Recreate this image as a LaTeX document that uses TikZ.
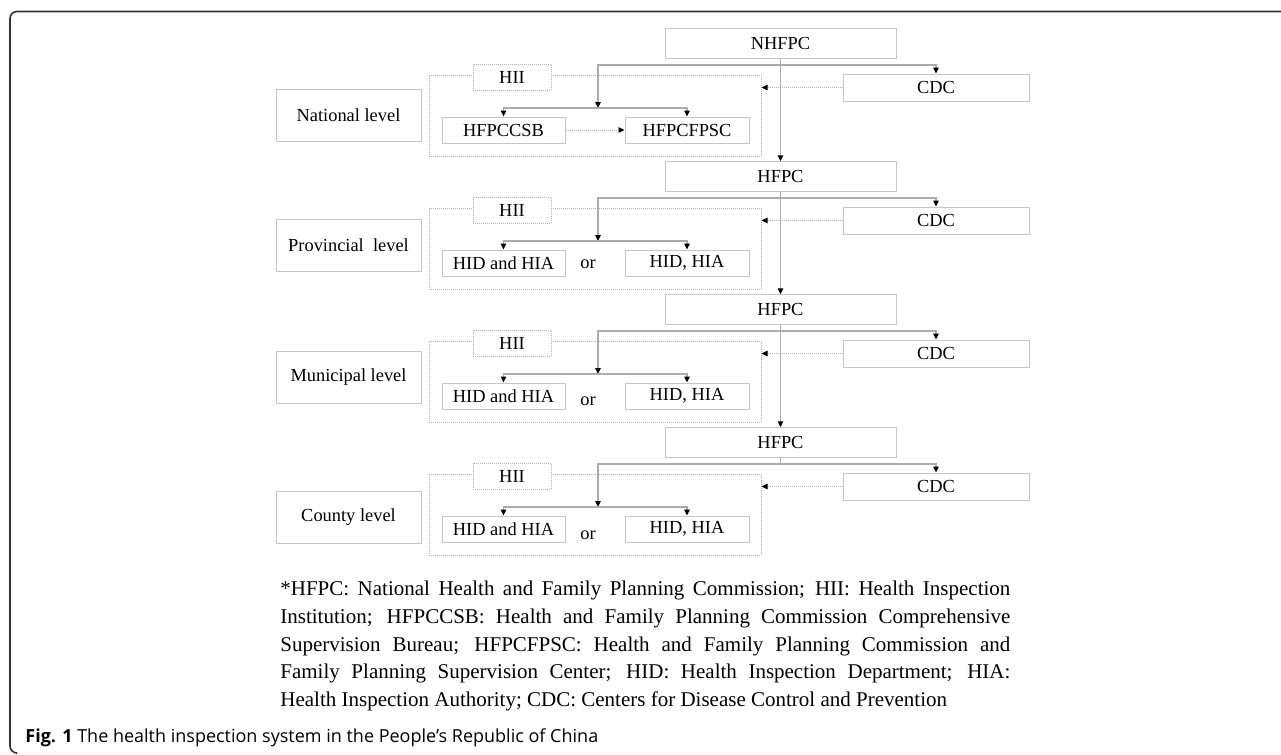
\documentclass[tikz,border=0pt]{standalone}
\usepackage{fontspec}
\setmainfont{Liberation Serif}
\newfontfamily\capfont{Open Sans}
\usetikzlibrary{arrows.meta,positioning}

\tikzset{
  box/.style={draw=gray!45, line width=0.5pt, inner sep=0pt, fill=white,
    font=\fontsize{9.2}{10}\selectfont},
  dotbox/.style={box, draw=gray!60, dash pattern=on 0.5pt off 0.5pt},
  link/.style={draw=gray!65, line width=0.6pt},
  dotlink/.style={draw=gray!60, line width=0.5pt, dash pattern=on 0.5pt off 0.5pt},
  tip/.style={-{Triangle[length=3pt,width=2.8pt,color=black]}},
}

\begin{document}
\begin{tikzpicture}[x=0.5pt, y=-0.5pt, line cap=butt]
\useasboundingbox (0,0) rectangle (1281,755);
\def\hidhia{HID, HIA}
% outer frame
\draw[line width=0.8pt, draw=black!80, rounded corners=3.5pt]
  (1285,11.5) -- (10,11.5) -- (10,753) -- (16,753);
% one row per level
\foreach \k/\lvl/\ly/\topname/\lft/\rgt/\ory in {
    0/National level/115/NHFPC/HFPCCSB/HFPCFPSC/0,
    1/Provincial\ \ level/245/HFPC/HID and HIA/\hidhia/264,
    2/Municipal level/377.5/HFPC/HID and HIA/\hidhia/401,
    3/County level/517/HFPC/HID and HIA/\hidhia/535} {
  \pgfmathsetmacro\dy{133*\k}
  \node[box, minimum width=145*0.5pt, minimum height=52*0.5pt]
    (lvl\k) at (348.5,\ly) {\lvl};
  \node[box, minimum width=231*0.5pt, minimum height=29.5*0.5pt]
    (top\k) at (780.5,43.5+\dy) {\topname};
  \node[box, minimum width=186*0.5pt, minimum height=27*0.5pt]
    (cdc\k) at (936,87.5+\dy) {CDC};
  \node[dotbox, fill=none, minimum width=332*0.5pt, minimum height=81*0.5pt]
    (hii\k) at (595,115.5+\dy) {};
  \node[dotbox, minimum width=78*0.5pt, minimum height=26*0.5pt]
    (hiilab\k) at (512,77+\dy) {HII};
  \node[box, minimum width=123*0.5pt, minimum height=26*0.5pt]
    (left\k) at (503.5,130+\dy) {\lft};
  \node[box, minimum width=124*0.5pt, minimum height=26*0.5pt]
    (right\k) at (687,130+\dy) {\rgt};
  \coordinate (fork\k) at (780.5,65+\dy);
  \coordinate (split\k) at (598,108+\dy);
  \draw[link] (top\k.south) -- (fork\k);
  \draw[link, tip] (fork\k) -| (cdc\k.north);
  \draw[link, tip] (fork\k) -| (split\k);
  \draw[link, tip] (split\k) -| (left\k.north);
  \draw[link, tip] (split\k) -| (right\k.north);
  \draw[dotlink, tip] (cdc\k.west) -- (hii\k.east |- cdc\k.west);
  \ifnum\k>0
    \node[font=\fontsize{9.2}{10}\selectfont] (or\k) at (588,\ory) {or};
  \fi
}
\foreach \k/\n in {0/1,1/2,2/3} {
  \draw[link, tip] (fork\k) -- (top\n.north);
}
\draw[dotlink, tip] (left0.east) -- (right0.west);
% key to the abbreviations
\node[anchor=north west, inner sep=0pt, text width=730*0.5pt, align=justify,
  font=\fontsize{10.5}{13.9}\selectfont] (key) at (280,580.5) {%
  *HFPC: National Health and Family Planning Commission; HII: Health Inspection\linebreak
  Institution; HFPCCSB: Health and Family Planning Commission Comprehensive\linebreak
  Supervision Bureau; HFPCFPSC: Health and Family Planning Commission and\linebreak
  Family Planning Supervision Center; HID: Health Inspection Department; HIA:\linebreak
  Health Inspection Authority; CDC: Centers for Disease Control and Prevention};
\node[anchor=base west, inner sep=0pt, font=\capfont\fontsize{9}{11}\selectfont]
  (fig) at (25,742) {\textbf{Fig. 1} The health inspection system in the People’s Republic of China};
\end{tikzpicture}
\end{document}
